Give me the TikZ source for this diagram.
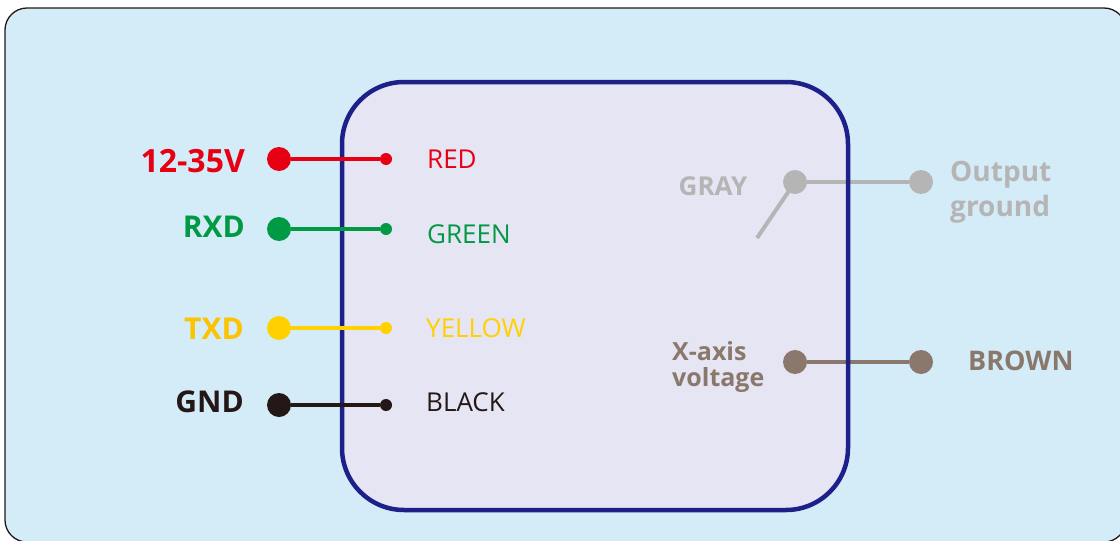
\documentclass[tikz,border=0pt]{standalone}
\usepackage{fontspec}
\setmainfont{Open Sans}
\usepackage{tikz}

\definecolor{panel}{HTML}{D4EBF8}
\definecolor{frame}{HTML}{231815}
\definecolor{lilac}{HTML}{E6E5F3}
\definecolor{navy}{HTML}{1D2088}
\definecolor{wred}{HTML}{E60012}
\definecolor{wgreen}{HTML}{009944}
\definecolor{wyellow}{HTML}{FFD100}
\definecolor{wtxd}{HTML}{FBC300}
\definecolor{wblack}{HTML}{231815}
\definecolor{wgray}{HTML}{B5B5B5}
\definecolor{wbrown}{HTML}{8B786C}

\tikzset{
  bigdot/.style={circle, fill, inner sep=0pt, minimum size=24pt},
  smalldot/.style={circle, fill, inner sep=0pt, minimum size=12pt},
  wire/.style={line width=4pt},
  signal/.style={font=\fontsize{30}{34}\selectfont\bfseries, inner sep=0pt, anchor=east},
  colour/.style={font=\fontsize{26}{30}\selectfont, inner sep=0pt, anchor=west}
}

\begin{document}
\begin{tikzpicture}[x=1pt, y=-1pt]
    \useasboundingbox (0,0) rectangle (1120,541);
    \draw[frame, fill=panel, line width=1.3pt, rounded corners=22pt] (5,8) rectangle (1126,542);
    \fill[lilac, rounded corners=62pt] (342,82) rectangle (848,510);

    \node[bigdot, wgray] (G1) at (795,182){};
    \node[bigdot, wgray] (G2) at (921,182){};
    \coordinate (Gsw) at (757,238);
    \node[bigdot, wbrown] (B1) at (795,362){};
    \node[bigdot, wbrown] (B2) at (921,362){};
    \draw[wire, wgray] (G1)--(G2);
    \draw[wire, wgray] (G1.center)--(Gsw);
    \draw[wire, wbrown] (B1)--(B2);
    \node[anchor=center, inner sep=0pt, wgray, font=\fontsize{26}{30}\selectfont\bfseries] (gray) at (713,186){GRAY};
    \node[anchor=north west, align=left, inner sep=0pt, wgray, font=\fontsize{28}{35}\selectfont\bfseries] (og) at (950,161){Output\\ground};
    \node[anchor=north west, align=left, inner sep=0pt, wbrown, font=\fontsize{25}{26}\selectfont\bfseries] (xv) at (672,341){X-axis\\voltage};
    \node[anchor=west, inner sep=0pt, wbrown, font=\fontsize{27}{30}\selectfont\bfseries] (brown) at (968,361){BROWN};

    \draw[navy, line width=4.5pt, rounded corners=62pt] (342,82) rectangle (848,510);

    \node[bigdot, wred] (R1) at (279,159){};
    \node[smalldot, wred] (R2) at (386,159){};
    \node[bigdot, wgreen] (N1) at (279,229){};
    \node[smalldot, wgreen] (N2) at (386,229){};
    \node[bigdot, wyellow] (Y1) at (279,328){};
    \node[smalldot, wyellow] (Y2) at (386,328){};
    \node[bigdot, wblack] (K1) at (279,405){};
    \node[smalldot, wblack] (K2) at (386,405){};
    \draw[wire, wred] (R1)--(R2);
    \draw[wire, wgreen] (N1)--(N2);
    \draw[wire, wyellow] (Y1)--(Y2);
    \draw[wire, wblack] (K1)--(K2);

    \node[signal, wred, font=\fontsize{32}{34}\selectfont\bfseries] (v) at (245,161){12-35V};
    \node[signal, wgreen] (rxd) at (245,227){RXD};
    \node[signal, wtxd] (txd) at (244,329){TXD};
    \node[signal, wblack] (gnd) at (244,402){GND};
    \node[colour, wred] (red) at (427,159){RED};
    \node[colour, wgreen] (green) at (427,234){GREEN};
    \node[colour, wyellow] (yellow) at (426,328){YELLOW};
    \node[colour, wblack] (black) at (426,402){BLACK};
  \end{tikzpicture}
\end{document}
